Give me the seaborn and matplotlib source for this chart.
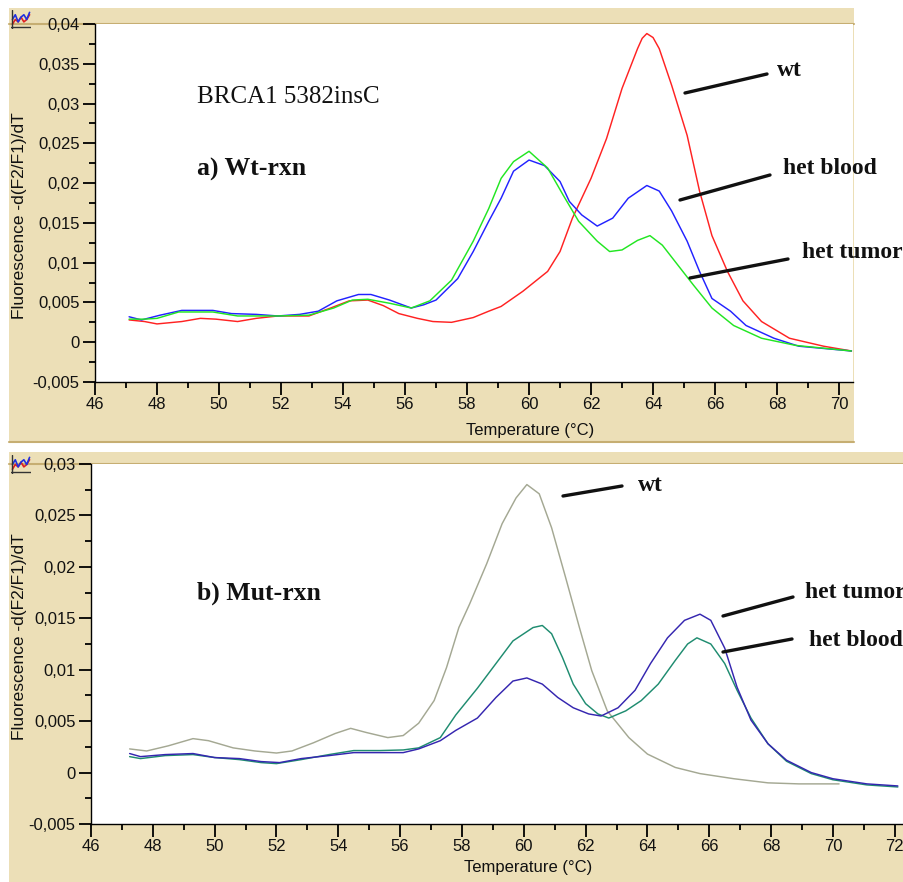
import numpy as np
import pandas as pd
import matplotlib
matplotlib.use("Agg")
import matplotlib.pyplot as plt
from matplotlib.patches import Rectangle
from matplotlib.lines import Line2D
from matplotlib.ticker import MultipleLocator, FuncFormatter
import seaborn as sns

W, H = 904, 882

# ---- a) Wt-rxn (top panel) ----
wt_a_temp = [47.1, 47.6, 48.0, 48.8, 49.4, 49.9, 50.6, 51.2, 51.9, 52.9, 53.6, 54.2, 54.8, 55.3,
             55.8, 56.4, 56.9, 57.5, 58.2, 58.7, 59.1, 59.8, 60.6, 61.0, 61.4, 62.0, 62.5, 63.0,
             63.5, 63.65, 63.8, 64.0, 64.2, 64.6, 65.1, 65.5, 65.9, 66.4, 66.9, 67.5, 68.4, 69.5, 70.4]
wt_a_val = [0.0028, 0.0026, 0.0023, 0.0026, 0.0030, 0.0029, 0.0026, 0.0030, 0.0033, 0.0033,
            0.0043, 0.0052, 0.0053, 0.0046, 0.0036, 0.0030, 0.0026, 0.0025, 0.0031, 0.0039,
            0.0045, 0.0064, 0.0089, 0.0114, 0.0156, 0.0206, 0.0256, 0.0319, 0.0369, 0.0382,
            0.0388, 0.0383, 0.0369, 0.0323, 0.0260, 0.0190, 0.0134, 0.0089, 0.0052, 0.0026,
            0.0005, -0.0005, -0.0011]

blood_a_temp = [47.1, 47.5, 48.1, 48.8, 49.8, 50.4, 51.2, 51.9, 52.6, 53.2, 53.8, 54.5, 54.9, 55.5,
                56.2, 56.6, 57.0, 57.7, 58.2, 58.7, 59.1, 59.5, 60.0, 60.5, 61.0, 61.3, 61.7, 62.2,
                62.7, 63.2, 63.8, 64.2, 64.6, 65.1, 65.5, 65.9, 66.5, 67.0, 67.9, 68.7, 70.4]
blood_a_val = [0.0032, 0.0028, 0.0034, 0.0040, 0.0040, 0.0036, 0.0035, 0.0033, 0.0035, 0.0039,
               0.0052, 0.0060, 0.0060, 0.0053, 0.0043, 0.0047, 0.0053, 0.0080, 0.0114, 0.0152,
               0.0181, 0.0215, 0.0229, 0.0222, 0.0202, 0.0177, 0.0160, 0.0146, 0.0156, 0.0181,
               0.0197, 0.0190, 0.0165, 0.0127, 0.0089, 0.0055, 0.0039, 0.0021, 0.0005, -0.0005, -0.0011]

tumor_a_temp = [47.1, 47.6, 48.0, 48.7, 49.8, 50.6, 51.2, 51.9, 52.9, 53.7, 54.3, 54.8, 55.5, 56.2,
                56.8, 57.5, 58.2, 58.7, 59.1, 59.5, 60.0, 60.6, 61.1, 61.6, 62.2, 62.6, 63.0, 63.5,
                63.9, 64.3, 64.8, 65.3, 65.9, 66.6, 67.5, 68.6, 70.4]
tumor_a_val = [0.0029, 0.0029, 0.0030, 0.0038, 0.0038, 0.0033, 0.0033, 0.0033, 0.0034, 0.0043,
               0.0053, 0.0054, 0.0049, 0.0043, 0.0052, 0.0078, 0.0127, 0.0168, 0.0206, 0.0227,
               0.0240, 0.0219, 0.0185, 0.0152, 0.0127, 0.0114, 0.0116, 0.0128, 0.0134, 0.0122,
               0.0097, 0.0072, 0.0043, 0.0021, 0.0005, -0.0004, -0.0011]

# ---- b) Mut-rxn (bottom panel) ----
wt_b_temp = [47.25, 47.8, 48.5, 49.3, 49.8, 50.6, 51.3, 52.0, 52.5, 53.2, 53.9, 54.4, 54.9, 55.6,
             56.1, 56.6, 57.1, 57.5, 57.9, 58.25, 58.8, 59.3, 59.75, 60.1, 60.5, 60.9, 61.35, 61.8,
             62.2, 62.7, 63.4, 64.0, 64.9, 65.7, 66.8, 67.9, 68.9, 70.2]
wt_b_val = [0.0023, 0.0021, 0.0026, 0.0033, 0.0031, 0.0024, 0.0021, 0.0019, 0.0021, 0.0029,
            0.0038, 0.0043, 0.0039, 0.0034, 0.0036, 0.0048, 0.0070, 0.0102, 0.0141, 0.0164,
            0.0203, 0.0242, 0.0267, 0.0280, 0.0271, 0.0238, 0.0190, 0.0141, 0.0099, 0.0060,
            0.0034, 0.0018, 0.0005, -0.0001, -0.0006, -0.0010, -0.0011, -0.0011]

blood_b_temp = [47.25, 47.6, 48.4, 49.3, 50.0, 50.8, 51.5, 52.0, 52.8, 53.7, 54.5, 55.35, 56.1, 56.6,
                57.3, 57.8, 58.5, 59.1, 59.65, 60.3, 60.6, 60.9, 61.25, 61.6, 62.0, 62.4, 62.75,
                63.3, 63.8, 64.35, 64.9, 65.3, 65.6, 66.05, 66.5, 66.9, 67.35, 67.9, 68.5, 69.3,
                70.0, 71.1, 72.1]
blood_b_val = [0.00155, 0.00136, 0.00165, 0.00175, 0.00146, 0.00126, 0.00097, 0.00087, 0.00126,
               0.00175, 0.00214, 0.00214, 0.0022, 0.0024, 0.0034, 0.0056, 0.0082, 0.0106, 0.0128,
               0.0141, 0.0143, 0.0135, 0.0112, 0.0086, 0.0067, 0.0057, 0.0053, 0.0060, 0.0070,
               0.0086, 0.0109, 0.0125, 0.0131, 0.0125, 0.0106, 0.0080, 0.0053, 0.0028, 0.0011,
               -0.0001, -0.0007, -0.0012, -0.0014]

tumor_b_temp = [47.25, 47.6, 48.4, 49.3, 50.0, 50.8, 51.5, 52.1, 52.8, 53.7, 54.5, 55.35, 56.1, 56.6,
                57.3, 57.8, 58.5, 59.1, 59.65, 60.1, 60.6, 61.1, 61.6, 62.1, 62.5, 63.05, 63.6,
                64.1, 64.65, 65.2, 65.7, 66.05, 66.5, 66.9, 67.35, 67.9, 68.5, 69.3, 70.0, 71.1, 72.1]
tumor_b_val = [0.00185, 0.00155, 0.00175, 0.00185, 0.00146, 0.00136, 0.00107, 0.00097, 0.00136,
               0.00165, 0.00194, 0.00194, 0.00194, 0.0023, 0.0031, 0.0041, 0.0053, 0.0073, 0.0089,
               0.0092, 0.0086, 0.0073, 0.0063, 0.0057, 0.0055, 0.0063, 0.0080, 0.0106, 0.0131,
               0.0148, 0.0154, 0.0148, 0.0121, 0.0083, 0.0051, 0.0028, 0.0012, 0.0000, -0.0006,
               -0.0011, -0.0013]

# little window icon in the corner of each panel
icon_x = [0, 1, 2, 3, 4, 5, 6]
icon_red = [1, 3, 2, 4, 2, 3, 5]
icon_blue = [3, 5, 2, 4, 5, 3, 6]

sns.set_theme(style="white")
plt.rcParams['font.family'] = ['Liberation Sans', 'DejaVu Sans']

TAN = '#ecdfb7'
EDGE = '#c6ae72'
SERIF = ['Liberation Serif', 'DejaVu Serif']


def fx(px):
    return px / W


def fy(py):
    return 1 - py / H


def comma_fmt(v, pos):
    if abs(v) < 1e-12:
        return "0"
    return f"{v:g}".replace('.', ',')


fig = plt.figure(figsize=(W / 100, H / 100), dpi=100)
fig.patch.set_facecolor('white')

# tan frames behind the plot areas
for (x0, y0, x1, y1) in [(9, 8, 854, 443), (9, 452, 904, 882)]:
    fig.add_artist(Rectangle((fx(x0), fy(y1)), (x1 - x0) / W, (y1 - y0) / H,
                             transform=fig.transFigure, facecolor=TAN, edgecolor='none', zorder=-5))
for (x0, x1, y) in [(9, 854, 23.5), (9, 854, 442.5), (9, 904, 463.5)]:
    fig.add_artist(Line2D([fx(x0), fx(x1)], [fy(y), fy(y)], transform=fig.transFigure,
                          color=EDGE, lw=1.5, zorder=-4))


def make_panel(rect, xmax, ymax, frames, palette, xlab_pos, ylab_pos):
    ax = fig.add_axes(rect)
    ax.set_facecolor('white')
    df = pd.concat([pd.DataFrame({'temp': t, 'val': v, 'sample': name}) for name, t, v in frames])
    sns.lineplot(data=df, x='temp', y='val', hue='sample', palette=palette, estimator=None,
                 sort=False, legend=False, lw=1.05, ax=ax)
    ax.set_xlim(46, xmax)
    ax.set_ylim(-0.005, ymax)
    ax.xaxis.set_major_locator(MultipleLocator(2))
    ax.xaxis.set_minor_locator(MultipleLocator(1))
    ax.yaxis.set_major_locator(MultipleLocator(0.005))
    ax.yaxis.set_minor_locator(MultipleLocator(0.0025))
    ax.yaxis.set_major_formatter(FuncFormatter(comma_fmt))
    ax.tick_params(which='major', direction='out', length=9, width=1.3, color='black',
                   labelsize=12, labelcolor='#111111', pad=2, left=True, bottom=True)
    ax.tick_params(which='minor', direction='out', length=4.5, width=1.3, color='black',
                   left=True, bottom=True)
    for s in ['top', 'right']:
        ax.spines[s].set_visible(False)
    for s in ['left', 'bottom']:
        ax.spines[s].set_color('black')
        ax.spines[s].set_linewidth(1.0)
    ax.set_xlabel('Temperature (°C)', fontsize=12, color='#111111')
    ax.xaxis.set_label_coords(*xlab_pos)
    ax.set_ylabel('')
    fig.text(fx(ylab_pos[0]), fy(ylab_pos[1]), 'Fluorescence -d(F2/F1)/dT', rotation=90,
             ha='center', va='center', fontsize=12.5, color='#111111')
    return ax


ax1 = make_panel([fx(95), fy(382), (853 - 95) / W, (382 - 24) / H], 70.45, 0.04,
                 [('wt', wt_a_temp, wt_a_val), ('het blood', blood_a_temp, blood_a_val),
                  ('het tumor', tumor_a_temp, tumor_a_val)],
                 {'wt': '#ff2222', 'het blood': '#2222ff', 'het tumor': '#22e622'},
                 (0.574, -0.115), (20, 216))

ax2 = make_panel([fx(91), fy(824), (904 - 91) / W, (824 - 464) / H], 72.3, 0.03,
                 [('wt', wt_b_temp, wt_b_val), ('het blood', blood_b_temp, blood_b_val),
                  ('het tumor', tumor_b_temp, tumor_b_val)],
                 {'wt': '#a4a893', 'het blood': '#1f8c70', 'het tumor': '#3526b0'},
                 (0.5375, -0.1), (20, 637))

# icons
for (x0, y0) in [(11, 10), (11, 455)]:
    ic = fig.add_axes([fx(x0), fy(y0 + 19), 20 / W, 19 / H])
    ic.plot(icon_x, icon_red, color='#e02020', lw=1.2)
    ic.plot(icon_x, icon_blue, color='#2030e0', lw=1.2)
    ic.set_xlim(-0.5, 6.5)
    ic.set_ylim(-1, 7)
    ic.set_xticks([])
    ic.set_yticks([])
    for s in ic.spines.values():
        s.set_visible(False)
    ic.axhline(0, color='#333333', lw=1)
    ic.axvline(-0.3, color='#333333', lw=1)
    ic.patch.set_alpha(0)

# panel texts
texts = [
    (197, 97, 'BRCA1 5382insC', 18, 'normal'),
    (197, 169, 'a) Wt-rxn', 18.5, 'bold'),
    (777, 71, 'wt', 17, 'bold'),
    (783, 169, 'het blood', 17, 'bold'),
    (802, 252, 'het tumor', 17, 'bold'),
    (197, 593, 'b) Mut-rxn', 18.5, 'bold'),
    (638, 486, 'wt', 17, 'bold'),
    (805, 593, 'het tumor', 17, 'bold'),
    (809, 640, 'het blood', 17, 'bold'),
]
for x, y, s, size, weight in texts:
    fig.text(fx(x), fy(y), s, fontsize=size, fontweight=weight, family=SERIF,
             ha='left', va='center', color='#111111', zorder=10)

# leader lines from labels to curves
leaders = [
    ((685, 93), (767, 74)),
    ((680, 200), (770, 175)),
    ((690, 278), (788, 259)),
    ((563, 496), (622, 486)),
    ((723, 616), (793, 597)),
    ((723, 652), (792, 639)),
]
for (a, b) in leaders:
    fig.add_artist(Line2D([fx(a[0]), fx(b[0])], [fy(a[1]), fy(b[1])], transform=fig.transFigure,
                          color='#111111', lw=2.4, solid_capstyle='round', zorder=10))

fig.savefig('out.png', dpi=100, facecolor='white')
